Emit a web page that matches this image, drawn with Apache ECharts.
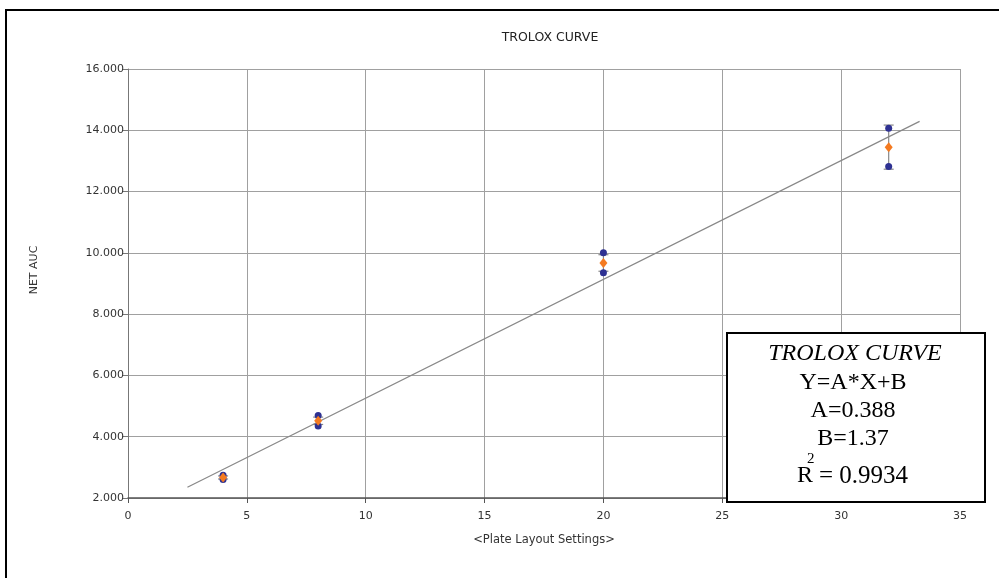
<!DOCTYPE html>
<html>
<head>
<meta charset="utf-8">
<script src="https://cdn.jsdelivr.net/npm/echarts@6/dist/echarts.min.js"></script>
<style>
html,body{margin:0;padding:0;background:#fff;}
#c{width:999px;height:578px;}
</style>
</head>
<body>
<div id="c"></div>
<script>
// Data
var titleText = 'TROLOX CURVE';
var xName = '<Plate Layout Settings>';
var yName = 'NET AUC';
var concentrations = [4, 8, 20, 32];
var replicateA = [2.74, 4.69, 10.00, 14.07];
var replicateB = [2.60, 4.35, 9.35, 12.82];
var means = [2.67, 4.52, 9.67, 13.45];
var errLow = [2.62, 4.40, 9.40, 12.73];
var errHigh = [2.72, 4.64, 9.94, 14.17];
var fitLineX = [2.5, 33.3];
var fitLineY = [2.35, 14.29];
var boxLines = ['TROLOX CURVE', 'Y=A*X+B', 'A=0.388', 'B=1.37', '0.9934'];

var chart = echarts.init(document.getElementById('c'), null, {renderer: 'canvas'});

var blueData = [];
for (var i = 0; i < concentrations.length; i++) {
  blueData.push([concentrations[i], replicateA[i]]);
  blueData.push([concentrations[i], replicateB[i]]);
}
var meanData = concentrations.map(function (x, i) { return [x, means[i]]; });
var errData = concentrations.map(function (x, i) { return [x, errLow[i], errHigh[i]]; });
var fitData = fitLineX.map(function (x, i) { return [x, fitLineY[i]]; });

var labelFont = '"DejaVu Sans", Arial, sans-serif';
var serif = '"Liberation Serif", "Times New Roman", serif';

var option = {
  backgroundColor: '#fff',
  animation: false,
  title: {
    text: titleText,
    left: 545, top: 26, textAlign: 'center',
    textStyle: {fontFamily: labelFont, fontSize: 12.5, fontWeight: 'normal', color: '#222'}
  },
  grid: {left: 128, right: 39, top: 69, bottom: 80, containLabel: false},
  xAxis: {
    type: 'value', min: 0, max: 35, interval: 5,
    name: xName, nameLocation: 'middle', nameGap: 36,
    nameTextStyle: {fontFamily: labelFont, fontSize: 11.5, color: '#333'},
    axisLine: {show: true, onZero: false, lineStyle: {color: '#555', width: 1.5}},
    axisTick: {show: true, length: 5, lineStyle: {color: '#555'}},
    axisLabel: {fontFamily: labelFont, fontSize: 11, color: '#333', margin: 13},
    splitLine: {show: true, lineStyle: {color: '#a0a0a0', width: 1}}
  },
  yAxis: {
    type: 'value', min: 2, max: 16, interval: 2,
    axisLine: {show: true, onZero: false, lineStyle: {color: '#777', width: 1}},
    axisTick: {show: true, length: 6, inside: false, lineStyle: {color: '#777'}},
    axisLabel: {fontFamily: labelFont, fontSize: 11, color: '#333', margin: 4,
      formatter: function (v) { return v.toFixed(3); }},
    splitLine: {show: true, lineStyle: {color: '#a0a0a0', width: 1}}
  },
  series: [
    {
      type: 'line', data: fitData, symbol: 'none', z: 3,
      lineStyle: {color: '#888', width: 1.2}
    },
    {
      type: 'custom', z: 4,
      data: errData,
      renderItem: function (params, api) {
        var x = api.value(0);
        var lo = api.coord([x, api.value(1)]);
        var hi = api.coord([x, api.value(2)]);
        var hw = 5;
        var st = {stroke: '#888', lineWidth: 1.2};
        return {
          type: 'group',
          children: [
            {type: 'line', shape: {x1: lo[0], y1: lo[1], x2: hi[0], y2: hi[1]}, style: st},
            {type: 'line', shape: {x1: lo[0] - hw, y1: lo[1], x2: lo[0] + hw, y2: lo[1]}, style: st},
            {type: 'line', shape: {x1: hi[0] - hw, y1: hi[1], x2: hi[0] + hw, y2: hi[1]}, style: st}
          ]
        };
      }
    },
    {
      type: 'scatter', data: blueData, symbol: 'circle', symbolSize: 7, z: 5,
      itemStyle: {color: '#2e3192', opacity: 1}
    },
    {
      type: 'scatter', data: meanData, symbol: 'diamond', symbolSize: [8, 10], z: 6,
      itemStyle: {color: '#f47a20', opacity: 1}
    }
  ],
  graphic: [
    {type: 'line', shape: {x1: 5, y1: 10, x2: 999, y2: 10}, style: {stroke: '#000', lineWidth: 2}, z: 10},
    {type: 'line', shape: {x1: 6, y1: 9, x2: 6, y2: 578}, style: {stroke: '#000', lineWidth: 2}, z: 10},
    {type: 'text', x: 34, y: 270, rotation: Math.PI / 2, z: 10,
      style: {text: yName, font: '11px ' + labelFont, fill: '#333', textAlign: 'center', textVerticalAlign: 'middle'}},
    {type: 'rect', shape: {x: 727, y: 333, width: 258, height: 169},
      style: {fill: '#fff', stroke: '#000', lineWidth: 2}, z: 20},
    {type: 'text', x: 855, y: 354, z: 21, style: {text: boxLines[0], font: 'italic 24px ' + serif, fill: '#000', textAlign: 'center', textVerticalAlign: 'middle'}},
    {type: 'text', x: 853, y: 383, z: 21, style: {text: boxLines[1], font: '24px ' + serif, fill: '#000', textAlign: 'center', textVerticalAlign: 'middle'}},
    {type: 'text', x: 853, y: 411, z: 21, style: {text: boxLines[2], font: '24px ' + serif, fill: '#000', textAlign: 'center', textVerticalAlign: 'middle'}},
    {type: 'text', x: 853, y: 439, z: 21, style: {text: boxLines[3], font: '24px ' + serif, fill: '#000', textAlign: 'center', textVerticalAlign: 'middle'}},
    {type: 'text', x: 797, y: 476, z: 21, style: {text: 'R', font: '24px ' + serif, fill: '#000', textAlign: 'left', textVerticalAlign: 'middle'}},
    {type: 'text', x: 807, y: 459, z: 21, style: {text: '2', font: '15px ' + serif, fill: '#000', textAlign: 'left', textVerticalAlign: 'middle'}},
    {type: 'text', x: 819, y: 476, z: 21, style: {text: '= ' + boxLines[4], font: '25px ' + serif, fill: '#000', textAlign: 'left', textVerticalAlign: 'middle'}}
  ]
};
chart.setOption(option);
</script>
</body>
</html>
